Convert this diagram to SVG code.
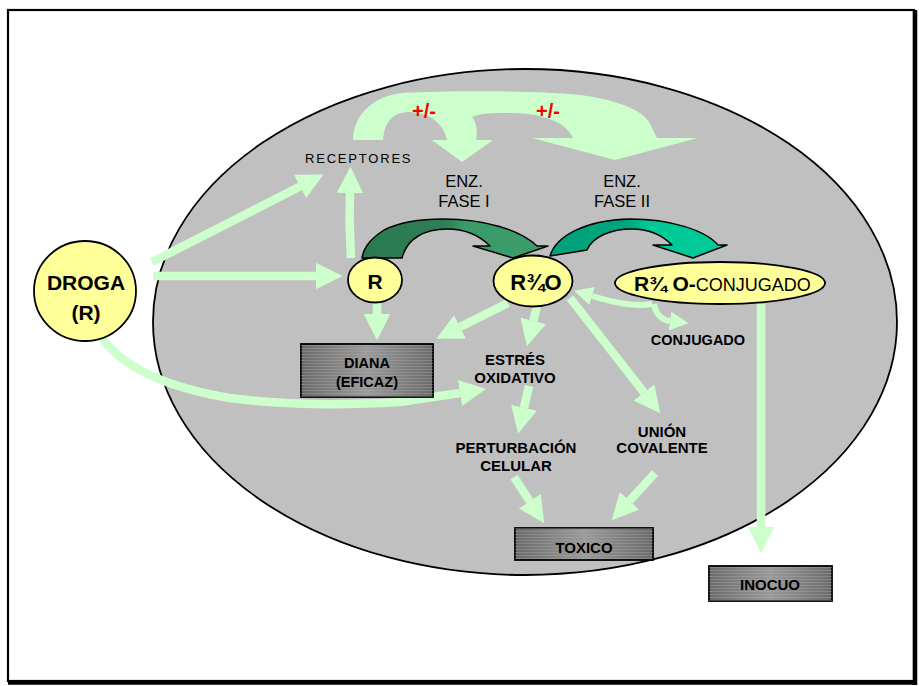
<svg xmlns="http://www.w3.org/2000/svg" width="919" height="686" viewBox="0 0 919 686">
<style>
.t{font-family:"Liberation Sans",Arial,sans-serif;fill:#000}
.b{font-weight:bold}
.red{fill:#FF0000}
.ga{fill:#CCFFCC}
.gl{fill:none;stroke:#CCFFCC;stroke-width:8.5;marker-end:url(#ah)}
.gs{fill:none;stroke:#CCFFCC;stroke-width:6;marker-end:url(#ah)}
.node{stroke:#000;stroke-width:1.8;fill:#FFFF99}
.box{stroke:#000;stroke-width:1.8;fill:url(#boxg)}
</style>
<defs>
<marker id="ah" viewBox="0 0 10 10" refX="0" refY="5" markerWidth="3.1" markerHeight="3.2" orient="auto" markerUnits="strokeWidth">
<path d="M0,0 L10,5 L0,10 Z" fill="#CCFFCC"/>
</marker>
<linearGradient id="boxg" x1="0" y1="0" x2="1" y2="0">
<stop offset="0" stop-color="#6a6a6a"/>
<stop offset="0.5" stop-color="#9a9a9a"/>
<stop offset="1" stop-color="#6a6a6a"/>
</linearGradient>
<pattern id="hatch" width="4" height="3" patternUnits="userSpaceOnUse">
<rect width="4" height="1" fill="#b0b0b0" opacity="0.35"/>
</pattern>
<linearGradient id="f1" x1="0" y1="0" x2="1" y2="0">
<stop offset="0" stop-color="#2A7A50"/>
<stop offset="0.45" stop-color="#2E7F55"/>
<stop offset="0.55" stop-color="#3A9A68"/>
<stop offset="1" stop-color="#3C9C6A"/>
</linearGradient>
<linearGradient id="f2" x1="0" y1="0" x2="1" y2="0">
<stop offset="0" stop-color="#00A07A"/>
<stop offset="0.45" stop-color="#00A67E"/>
<stop offset="0.55" stop-color="#00C896"/>
<stop offset="1" stop-color="#00CC99"/>
</linearGradient>
</defs>

<rect width="919" height="686" fill="#fff"/>
<g id="frame">
<rect x="8" y="10" width="906" height="671" fill="none" stroke="#000" stroke-width="2.2"/>
<line x1="915" y1="10" x2="915" y2="685" stroke="#000" stroke-width="4.5"/>
<line x1="8" y1="682.5" x2="917" y2="682.5" stroke="#000" stroke-width="4.5"/>
</g>

<g id="cell">
<ellipse cx="525" cy="322" rx="372" ry="253" fill="#C0C0C0" stroke="#000" stroke-width="1.8"/>
</g>

<g id="connectors">
<line class="gl" x1="152" y1="262" x2="300" y2="186.5"/>
<line class="gl" x1="153" y1="276" x2="316" y2="276"/>
<path class="gl" d="M351 258 L349.5 221 L350 193"/>
<line class="gl" x1="377" y1="303" x2="377" y2="314"/>
<line class="gl" x1="508" y1="303" x2="460" y2="327"/>
<line class="gl" x1="537" y1="306" x2="533.3" y2="320.8"/>
<line class="gl" x1="570" y1="298" x2="644" y2="392.5"/>
<line class="gl" x1="529" y1="386" x2="524" y2="407.7"/>
<line class="gl" x1="514" y1="477" x2="529.8" y2="501.2"/>
<line class="gl" x1="655" y1="473" x2="629.5" y2="500.8"/>
<line class="gl" x1="761" y1="304" x2="761" y2="527"/>
<path class="gl" d="M102 338 C125 370 170 388 230 398 C290 406 350 405 400 402 L460 393"/>
<path class="gs" d="M652 304 C632 307 612 302 592 296"/>
<path class="gs" d="M654 304 C656 315 662 320 670 321"/>
<path class="ga" d="M353 140 C353 118 370 96 403 93 C460 90 540 91 580 95 C620 100 648 112 652 128 L657 138 L698 138 L615 160 L532 138 L573 138 C565 122 545 114 513 113 C495 113 480 113 472 117 C476 122 478 130 476 140 L493 140 L462 162 L432 140 L447 140 C444 125 432 113 410 112 C393 112 384 122 383 140 Z"/>
<path fill="url(#f1)" stroke="#000" stroke-width="1.5" stroke-linejoin="round" d="M362 258 C364 246 372 238 384 230 C398 223 418 219 443 219 C485 219 520 230 537 246 L548 246 L513 258 L473 246 L490 246 C480 236 465 229 447 229 C425 229 407 238 402 258 Z"/>
<path fill="url(#f2)" stroke="#000" stroke-width="1.5" stroke-linejoin="round" d="M550 256 C556 236 585 220 630 219 C670 219 705 230 718 245 L727 245 L693 258 L653 245 L672 245 C662 235 648 229 632 229 C612 229 593 236 587 250 Z"/>
</g>

<g id="labels">
<text class="t" x="305" y="163" font-size="13" letter-spacing="1.8">RECEPTORES</text>
<text class="t b red" x="424" y="118" font-size="20" text-anchor="middle">+/-</text>
<text class="t b red" x="548" y="118" font-size="20" text-anchor="middle">+/-</text>
<text class="t" x="464" y="187" font-size="16.5" text-anchor="middle">ENZ.</text>
<text class="t" x="464" y="207" font-size="16.5" text-anchor="middle">FASE I</text>
<text class="t" x="622" y="187" font-size="16.5" text-anchor="middle">ENZ.</text>
<text class="t" x="622" y="207" font-size="16.5" text-anchor="middle">FASE II</text>
<text class="t b" x="698" y="345" font-size="14.5" text-anchor="middle">CONJUGADO</text>
<text class="t b" x="515" y="365" font-size="15" text-anchor="middle">ESTRÉS</text>
<text class="t b" x="515" y="383" font-size="15" text-anchor="middle">OXIDATIVO</text>
<text class="t b" x="516" y="453" font-size="15" text-anchor="middle">PERTURBACIÓN</text>
<text class="t b" x="516" y="471" font-size="15" text-anchor="middle">CELULAR</text>
<text class="t b" x="662" y="437" font-size="15" text-anchor="middle">UNIÓN</text>
<text class="t b" x="662" y="453" font-size="15" text-anchor="middle">COVALENTE</text>
</g>

<g id="droga">
<ellipse class="node" cx="85" cy="291" rx="51" ry="50"/>
<text class="t b" x="86" y="290" font-size="21" text-anchor="middle">DROGA</text>
<text class="t b" x="86" y="320" font-size="21" text-anchor="middle">(R)</text>
</g>
<g id="r">
<ellipse class="node" cx="375" cy="280" rx="27" ry="22.5"/>
<text class="t b" x="375" y="289" font-size="21" text-anchor="middle">R</text>
</g>
<g id="r-o">
<ellipse class="node" cx="533" cy="281" rx="39.5" ry="25.5"/>
<text class="t b" x="536" y="290" font-size="22" text-anchor="middle">R¾O</text>
</g>
<g id="r-o-conjugado">
<ellipse class="node" cx="720" cy="283" rx="105" ry="21"/>
<text class="t" x="634" y="291"><tspan class="b" font-size="21">R¾ O-</tspan><tspan font-size="18">CONJUGADO</tspan></text>
</g>
<g id="diana">
<rect class="box" x="301" y="344" width="132" height="53"/>
<rect x="301" y="344" width="132" height="53" fill="url(#hatch)"/>
<text class="t b" x="367" y="368" font-size="14.5" text-anchor="middle">DIANA</text>
<text class="t b" x="367" y="387" font-size="14.5" text-anchor="middle">(EFICAZ)</text>
</g>
<g id="toxico">
<rect class="box" x="515" y="528" width="138" height="32"/>
<rect x="515" y="528" width="138" height="32" fill="url(#hatch)"/>
<text class="t b" x="584" y="553" font-size="15" text-anchor="middle">TOXICO</text>
</g>
<g id="inocuo">
<rect class="box" x="709" y="566" width="123" height="35"/>
<rect x="709" y="566" width="123" height="35" fill="url(#hatch)"/>
<text class="t b" x="770" y="590" font-size="15" text-anchor="middle">INOCUO</text>
</g>
</svg>
